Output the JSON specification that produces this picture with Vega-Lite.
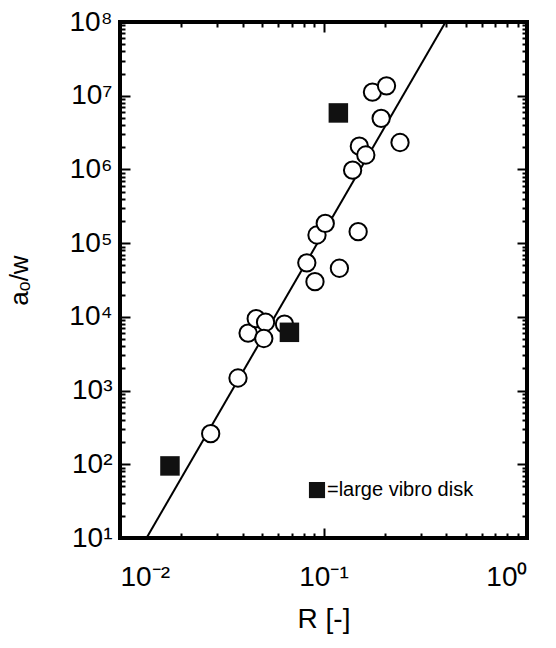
{
  "$schema": "https://vega.github.io/schema/vega-lite/v6.json",
  "width": 407,
  "height": 516,
  "autosize": "none",
  "padding": {"left": 120, "top": 22, "right": 29, "bottom": 110},
  "background": "white",
  "config": {
    "view": {"stroke": "black", "strokeWidth": 4},
    "font": "Liberation Sans",
    "axis": {
      "labelFont": "Liberation Sans",
      "titleFont": "Liberation Sans",
      "labelFontSize": 28,
      "titleFontSize": 28,
      "titleFontWeight": "normal",
      "labelColor": "black",
      "titleColor": "black",
      "tickColor": "black",
      "tickWidth": 2,
      "grid": false,
      "domain": false
    }
  },
  "datasets": {
    "circles": [
      {"R": 0.0279, "a": 260},
      {"R": 0.038, "a": 1480},
      {"R": 0.0426, "a": 6030},
      {"R": 0.0467, "a": 9460},
      {"R": 0.0519, "a": 8450},
      {"R": 0.0509, "a": 5090},
      {"R": 0.0643, "a": 7980},
      {"R": 0.0828, "a": 54000},
      {"R": 0.0908, "a": 30000},
      {"R": 0.0929, "a": 129000},
      {"R": 0.102, "a": 185000},
      {"R": 0.1197, "a": 45600},
      {"R": 0.148, "a": 143000},
      {"R": 0.139, "a": 977000},
      {"R": 0.150, "a": 2070000},
      {"R": 0.1614, "a": 1570000},
      {"R": 0.174, "a": 11200000},
      {"R": 0.204, "a": 13600000},
      {"R": 0.192, "a": 4930000},
      {"R": 0.2377, "a": 2320000}
    ],
    "squares": [
      {"R": 0.0176, "a": 95},
      {"R": 0.068, "a": 6170},
      {"R": 0.1183, "a": 5840000}
    ],
    "fit": [
      {"R": 0.0135, "a": 10},
      {"R": 0.398, "a": 100000000}
    ],
    "legendSquare": [
      {"R": 0.0929, "a": 44.7}
    ],
    "legendText": [
      {"R": 0.104, "a": 44.7, "label": "=large vibro disk"}
    ]
  },
  "layer": [
    {
      "data": {"name": "fit"},
      "mark": {"type": "line", "color": "black", "strokeWidth": 2, "clip": true},
      "encoding": {
        "x": {"field": "R", "type": "quantitative",
          "scale": {"type": "log", "domain": [0.01, 1], "nice": false},
          "axis": {"orient": "bottom", "values": [0.01, 0.1, 1], "tickSize": -10, "labelPadding": 35,
            "labelExpr": "datum.value < 0.05 ? '10⁻²' : datum.value < 0.5 ? '10⁻¹' : '10⁰'",
            "title": "R [-]", "titlePadding": 14}},
        "y": {"field": "a", "type": "quantitative",
          "scale": {"type": "log", "domain": [10, 100000000], "nice": false},
          "axis": {"orient": "left", "values": [10, 100, 1000, 10000, 100000, 1000000, 10000000, 100000000], "tickSize": -10, "labelPadding": 18,
            "labelExpr": "['10⁰','10¹','10²','10³','10⁴','10⁵','10⁶','10⁷','10⁸'][round(log(datum.value)/LN10)]",
            "title": "aₒ/w", "titleFontSize": 26, "titlePadding": 36}}
      }
    },
    {
      "data": {"name": "circles"},
      "mark": {"type": "point", "shape": "circle", "filled": false, "fill": "white", "fillOpacity": 1, "stroke": "black", "strokeWidth": 2, "size": 300, "opacity": 1},
      "encoding": {
        "x": {"field": "R", "type": "quantitative",
          "axis": {"orient": "bottom", "values": [0.02,0.03,0.04,0.05,0.06,0.07,0.08,0.09,0.2,0.3,0.4,0.5,0.6,0.7,0.8,0.9], "tickSize": -5, "labels": false, "title": null}},
        "y": {"field": "a", "type": "quantitative",
          "axis": {"orient": "left", "values": [20,30,40,50,60,70,80,90,200,300,400,500,600,700,800,900,2000,3000,4000,5000,6000,7000,8000,9000,20000,30000,40000,50000,60000,70000,80000,90000,200000,300000,400000,500000,600000,700000,800000,900000,2000000,3000000,4000000,5000000,6000000,7000000,8000000,9000000,20000000,30000000,40000000,50000000,60000000,70000000,80000000,90000000], "tickSize": -5, "labels": false, "title": null}}
      }
    },
    {
      "data": {"name": "squares"},
      "mark": {"type": "square", "color": "#111111", "size": 380, "opacity": 1},
      "encoding": {
        "x": {"field": "R", "type": "quantitative",
          "axis": {"orient": "top", "values": [0.01, 0.1, 1], "tickSize": -10, "labels": false, "title": null}},
        "y": {"field": "a", "type": "quantitative",
          "axis": {"orient": "right", "values": [10, 100, 1000, 10000, 100000, 1000000, 10000000, 100000000], "tickSize": -10, "labels": false, "title": null}}
      }
    },
    {
      "data": {"name": "legendSquare"},
      "mark": {"type": "square", "color": "#111111", "size": 260, "opacity": 1},
      "encoding": {
        "x": {"field": "R", "type": "quantitative",
          "axis": {"orient": "top", "values": [0.02,0.03,0.04,0.05,0.06,0.07,0.08,0.09,0.2,0.3,0.4,0.5,0.6,0.7,0.8,0.9], "tickSize": -5, "labels": false, "title": null}},
        "y": {"field": "a", "type": "quantitative",
          "axis": {"orient": "right", "values": [20,30,40,50,60,70,80,90,200,300,400,500,600,700,800,900,2000,3000,4000,5000,6000,7000,8000,9000,20000,30000,40000,50000,60000,70000,80000,90000,200000,300000,400000,500000,600000,700000,800000,900000,2000000,3000000,4000000,5000000,6000000,7000000,8000000,9000000,20000000,30000000,40000000,50000000,60000000,70000000,80000000,90000000], "tickSize": -5, "labels": false, "title": null}}
      }
    },
    {
      "data": {"name": "legendText"},
      "mark": {"type": "text", "align": "left", "baseline": "middle", "fontSize": 20, "font": "Liberation Sans", "color": "black"},
      "encoding": {
        "x": {"field": "R", "type": "quantitative", "axis": null},
        "y": {"field": "a", "type": "quantitative", "axis": null},
        "text": {"field": "label"}
      }
    }
  ],
  "resolve": {"axis": {"x": "independent", "y": "independent"}}
}
